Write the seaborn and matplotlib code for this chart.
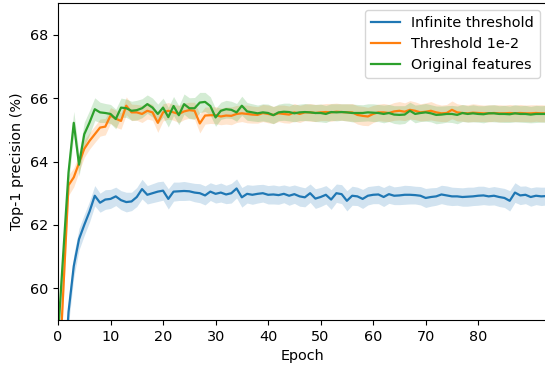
import matplotlib
matplotlib.use("Agg")
import matplotlib.pyplot as plt
import seaborn as sns
import pandas as pd
import numpy as np

plt.rcParams["font.size"] = 10.4

series_names = ["Infinite threshold", "Threshold 1e-2", "Original features"]
colors = ["#1f77b4", "#ff7f0e", "#2ca02c"]

blue = [
    53.0, 56.5, 59.25, 60.7, 61.55, 62.0, 62.42, 62.92, 62.7, 62.8,
    62.82, 62.9, 62.78, 62.72, 62.74, 62.88, 63.13, 62.95, 63.0, 63.05,
    63.08, 62.82, 63.05, 63.06, 63.07, 63.06, 63.02, 63.0, 62.93, 63.05,
    62.98, 63.02, 62.96, 63.0, 63.15, 62.87, 62.98, 62.95, 62.98, 63.0,
    62.95, 62.96, 62.94, 62.98, 62.92, 62.97, 62.9, 62.87, 63.0, 62.83,
    62.88, 62.95, 62.8, 63.0, 62.97, 62.76, 62.92, 62.9, 62.82, 62.92,
    62.95, 62.96, 62.88, 62.97, 62.92, 62.93, 62.95, 62.95, 62.94, 62.92,
    62.85, 62.88, 62.9, 62.96, 62.93, 62.9, 62.9, 62.88, 62.89, 62.9,
    62.92, 62.93, 62.9, 62.92, 62.88, 62.85, 62.76, 63.02, 62.93, 62.95,
    62.88, 62.92, 62.9, 62.91]

orange = [
    56.6, 59.9, 63.25, 63.5, 63.95, 64.4, 64.65, 64.86, 65.07, 65.1,
    65.45, 65.35, 65.28, 65.76, 65.55, 65.55, 65.5, 65.6, 65.55, 65.22,
    65.55, 65.6, 65.55, 65.5, 65.58, 65.62, 65.6, 65.2, 65.45, 65.46,
    65.46, 65.42, 65.45, 65.44, 65.5, 65.52, 65.5, 65.48, 65.47, 65.53,
    65.5, 65.47, 65.52, 65.5, 65.48, 65.55, 65.5, 65.55, 65.55, 65.53,
    65.55, 65.56, 65.55, 65.57, 65.56, 65.55, 65.55, 65.47, 65.44, 65.42,
    65.5, 65.55, 65.55, 65.53, 65.58, 65.6, 65.57, 65.63, 65.6, 65.55,
    65.57, 65.6, 65.55, 65.52, 65.53, 65.63, 65.55, 65.53, 65.52, 65.54,
    65.53, 65.52, 65.52, 65.53, 65.52, 65.52, 65.53, 65.52, 65.53, 65.52,
    65.52, 65.53, 65.52, 65.52]

green = [
    58.5, 61.1, 63.65, 65.22, 63.9, 64.86, 65.23, 65.65, 65.55, 65.53,
    65.5, 65.34, 65.7, 65.68, 65.6, 65.62, 65.68, 65.81, 65.7, 65.5,
    65.7, 65.4, 65.75, 65.46, 65.81, 65.68, 65.68, 65.86, 65.88, 65.75,
    65.39, 65.6, 65.65, 65.63, 65.55, 65.76, 65.58, 65.55, 65.52, 65.55,
    65.53, 65.46, 65.55, 65.57, 65.56, 65.52, 65.55, 65.56, 65.55, 65.53,
    65.53, 65.5, 65.56, 65.55, 65.56, 65.55, 65.53, 65.53, 65.53, 65.55,
    65.54, 65.53, 65.5, 65.53, 65.48, 65.47, 65.48, 65.6, 65.5, 65.53,
    65.55, 65.52, 65.47, 65.48, 65.5, 65.5, 65.47, 65.53, 65.5, 65.52,
    65.5, 65.49, 65.52, 65.52, 65.5, 65.5, 65.49, 65.52, 65.5, 65.5,
    65.48, 65.5, 65.5, 65.5]

blue_sd = [
    0.40, 0.40, 0.38, 0.36, 0.34, 0.33, 0.33, 0.32, 0.30, 0.31,
    0.30, 0.29, 0.30, 0.31, 0.29, 0.30, 0.31, 0.29, 0.30, 0.31,
    0.30, 0.32, 0.30, 0.29, 0.30, 0.28, 0.29, 0.30, 0.30, 0.28,
    0.29, 0.30, 0.29, 0.31, 0.30, 0.31, 0.29, 0.30, 0.29, 0.28,
    0.29, 0.30, 0.29, 0.28, 0.30, 0.29, 0.31, 0.30, 0.29, 0.31,
    0.30, 0.29, 0.31, 0.29, 0.30, 0.32, 0.30, 0.29, 0.30, 0.29,
    0.28, 0.29, 0.30, 0.29, 0.28, 0.29, 0.30, 0.29, 0.28, 0.29,
    0.30, 0.29, 0.28, 0.29, 0.30, 0.29, 0.28, 0.29, 0.30, 0.29,
    0.30, 0.29, 0.28, 0.29, 0.30, 0.30, 0.32, 0.31, 0.29, 0.28,
    0.29, 0.28, 0.29, 0.28]

orange_sd = [
    0.35, 0.35, 0.32, 0.30, 0.28, 0.27, 0.26, 0.26, 0.27, 0.26,
    0.25, 0.27, 0.26, 0.28, 0.26, 0.25, 0.27, 0.26, 0.25, 0.30,
    0.27, 0.26, 0.25, 0.27, 0.26, 0.25, 0.27, 0.30, 0.27, 0.26,
    0.27, 0.26, 0.27, 0.28, 0.27, 0.26, 0.28, 0.27, 0.26, 0.27,
    0.28, 0.27, 0.26, 0.28, 0.27, 0.28, 0.27, 0.26, 0.28, 0.27,
    0.26, 0.27, 0.28, 0.27, 0.26, 0.27, 0.28, 0.29, 0.30, 0.29,
    0.27, 0.26, 0.28, 0.27, 0.28, 0.29, 0.28, 0.29, 0.28, 0.27,
    0.28, 0.29, 0.27, 0.26, 0.27, 0.28, 0.27, 0.26, 0.27, 0.28,
    0.27, 0.26, 0.27, 0.26, 0.27, 0.26, 0.27, 0.26, 0.27, 0.26,
    0.27, 0.26, 0.27, 0.26]

green_sd = [
    0.40, 0.40, 0.38, 0.36, 0.36, 0.38, 0.38, 0.36, 0.32, 0.30,
    0.30, 0.31, 0.30, 0.29, 0.30, 0.31, 0.30, 0.29, 0.30, 0.31,
    0.30, 0.31, 0.30, 0.30, 0.32, 0.33, 0.34, 0.32, 0.30, 0.29,
    0.28, 0.27, 0.28, 0.27, 0.28, 0.30, 0.28, 0.27, 0.26, 0.27,
    0.28, 0.27, 0.26, 0.27, 0.28, 0.27, 0.26, 0.27, 0.26, 0.27,
    0.28, 0.27, 0.26, 0.27, 0.26, 0.27, 0.28, 0.27, 0.26, 0.27,
    0.28, 0.27, 0.28, 0.27, 0.28, 0.29, 0.28, 0.27, 0.28, 0.27,
    0.28, 0.27, 0.28, 0.27, 0.26, 0.27, 0.28, 0.27, 0.26, 0.27,
    0.26, 0.27, 0.26, 0.27, 0.26, 0.27, 0.26, 0.27, 0.26, 0.27,
    0.26, 0.27, 0.26, 0.27]

epochs = list(range(len(blue)))

values = [blue, orange, green]
bands = [blue_sd, orange_sd, green_sd]

df = pd.concat([
    pd.DataFrame({"Epoch": epochs, "value": v, "sd": s, "series": name})
    for name, v, s in zip(series_names, values, bands)
], ignore_index=True)

fig = plt.figure(figsize=(5.45, 3.69), dpi=100)
ax = fig.add_axes([58 / 545, 49 / 369, 489 / 545, 317 / 369])

sns.lineplot(data=df, x="Epoch", y="value", hue="series", hue_order=series_names,
             palette=colors, errorbar=None, linewidth=1.6, ax=ax)

for name, c in zip(series_names, colors):
    sub = df[df["series"] == name]
    ax.fill_between(sub["Epoch"], sub["value"] - sub["sd"], sub["value"] + sub["sd"],
                    color=c, alpha=0.2, linewidth=0)

ax.set_xlim(0, 93.1)
ax.set_ylim(59, 69)
ax.set_yticks([60, 62, 64, 66, 68])
ax.set_xticks([0, 10, 20, 30, 40, 50, 60, 70, 80])
ax.set_xlabel("Epoch")
ax.set_ylabel("Top-1 precision (%)")
ax.legend(loc="upper right")

fig.savefig("out.png", dpi=100)
